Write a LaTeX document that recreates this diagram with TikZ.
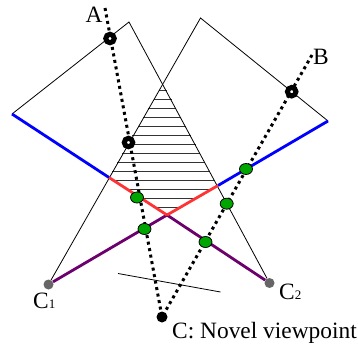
\documentclass[tikz,border=0pt]{standalone}
\usepackage{fontspec}
\setmainfont{Liberation Serif}
\usetikzlibrary{shapes.geometric}
\tikzset{
    beam/.style={line width=2.8pt},
    ray/.style={line width=3pt, dash pattern=on 3pt off 3.6pt},
    hit/.style={ellipse, draw=black, fill=green!65!black, inner sep=0pt, minimum width=13pt, minimum height=11pt, line width=0.8pt},
    ring/.style={circle, draw=black, fill=white, inner sep=0pt, minimum size=8.5pt, line width=5pt},
    camera/.style={circle, fill=black!60, inner sep=0pt, minimum size=10pt},
    lbl/.style={inner sep=0pt, font=\fontsize{23.4}{25}\selectfont}
}
\newcommand{\lblnum}[1]{{\fontsize{13}{15}\selectfont #1}}
\begin{document}
\begin{tikzpicture}[x=1pt,y=-1pt]
    \useasboundingbox (0,0) rectangle (358,344);
    % frustum corners
    \coordinate (topL) at (129,22);
    \coordinate (sideL) at (12,114);
    \coordinate (topR) at (200.5,18);
    \coordinate (sideR) at (328,121);
    \coordinate (kneeL) at (109,177.5);
    \coordinate (kneeR) at (218,185.5);
    \coordinate (cross) at (167,215);
    \coordinate (planeL) at (118,273.5);
    \coordinate (planeR) at (220.5,292);
    \coordinate (endA) at (105,8);
    \coordinate (endB) at (312,55);
    % hatching
    \foreach \y/\xa/\xb in {90.5/158.5/166.5, 99.5/153.5/171.5, 108.5/148/176, 117.5/143/181, 126.5/138/186, 135.5/132/191, 144.5/127/196, 153.5/122/200, 162.5/117/205, 171.5/112/210, 180.5/113/214, 189.5/126.5/211, 198.5/140.5/196, 207.5/154.5/180.5}
        \draw [line width=1pt, black!80] (\xa,\y) -- (\xb,\y);
    % cameras
    \node [camera] (camL) at (48.5,284.5) {};
    \node [camera] (camR) at (269.5,283) {};
    \node [circle, fill=black, inner sep=0pt, minimum size=11pt] (view) at (162,317) {};
    % thin outlines
    \draw [line width=0.8pt] (camL) -- (topR) -- (sideR);
    \draw [line width=0.8pt] (camR) -- (topL) -- (sideL);
    \draw [line width=0.8pt] (planeL) -- (planeR);
    % surfaces
    \draw [beam, blue] (sideL) -- (kneeL);
    \draw [beam, blue] (sideR) -- (kneeR);
    \draw [beam, violet!85!black] (camL) -- (cross);
    \draw [beam, violet!85!black] (camR) -- (cross);
    \draw [beam, red!80!white] (kneeL) -- (cross);
    \draw [beam, red!80!white] (kneeR) -- (cross);
    % rays
    \draw [ray] (endA) -- (view);
    \draw [ray] (endB) -- (view);
    \node [ring] (ringA) at (110,38.5) {};
    \node [ring] (ringM) at (128.5,142.5) {};
    \node [ring] (ringB) at (291.7,91.7) {};
    \node [hit] (hitA) at (137,197.5) {};
    \node [hit] (hitB) at (144.5,229) {};
    \node [hit] (hitC) at (246,169) {};
    \node [hit] (hitD) at (226.7,203.7) {};
    \node [hit] (hitE) at (205.5,242) {};
    % labels
    \node [lbl] (labA) at (94,15) {A};
    \node [lbl] (labB) at (321,57) {B};
    \node [lbl, anchor=base west] (labC1) at (33,308) {C\lblnum{1}};
    \node [lbl, anchor=base west] (labC2) at (279,299) {C\lblnum{2}};
    \node [lbl, anchor=base west] (labC) at (172,338) {C: Novel viewpoint};
\end{tikzpicture}
\end{document}
